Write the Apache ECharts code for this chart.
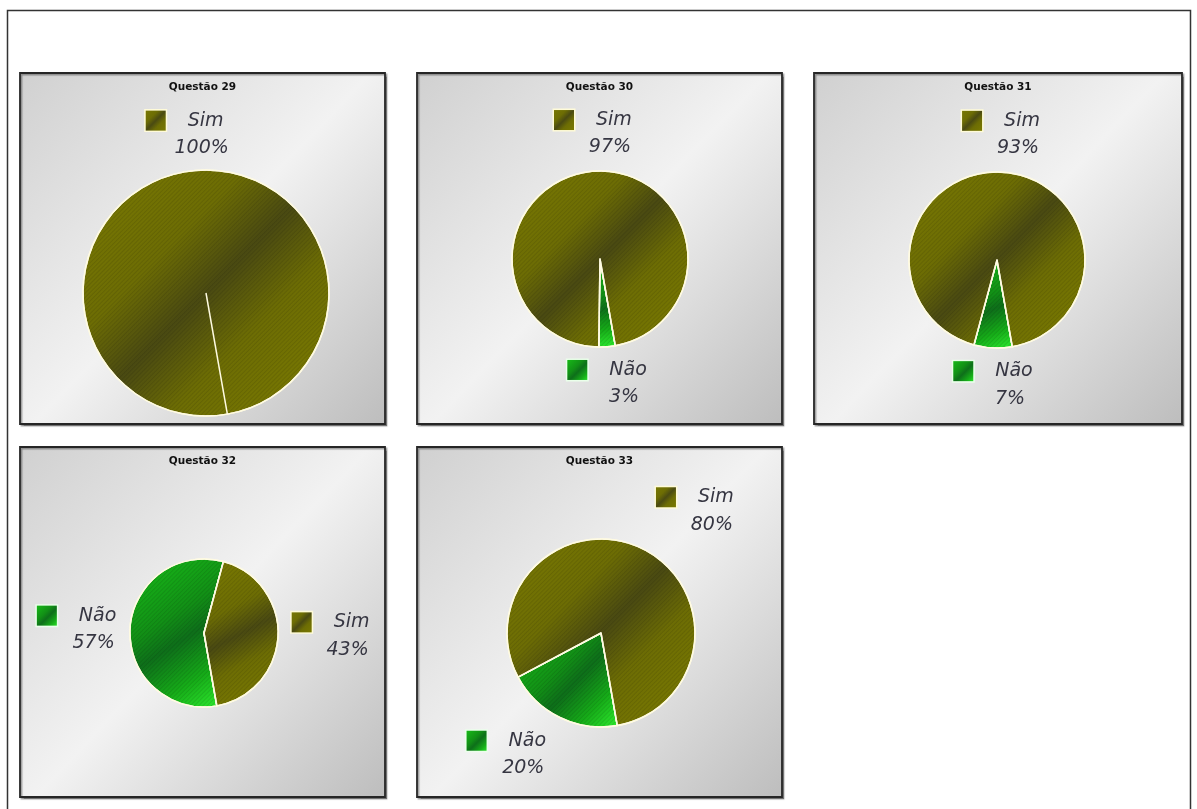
<!DOCTYPE html>
<html>
<head>
<meta charset="utf-8">
<script src="https://cdn.jsdelivr.net/npm/echarts@6/dist/echarts.min.js"></script>
<style>
html,body{margin:0;padding:0;background:#fff;}
#chart{width:1197px;height:809px;}
</style>
</head>
<body>
<div id="chart"></div>
<script>
// ---- data ----
const questions = ['Questão 29', 'Questão 30', 'Questão 31', 'Questão 32', 'Questão 33'];
const categories = ['Não', 'Sim'];
const naoValues = [0, 3, 7, 57, 20];
const simValues = [100, 97, 93, 43, 80];

// ---- layout (positions / sizes) ----
const panels = [[20,73,365,351],[417,73,365,351],[814,73,368,351],[20,447,365,350],[417,447,365,350]];
const pieCenters = [[206,293],[600,259],[997,260],[204,633],[601,633]];
const pieRadii = [123, 88, 88, 74, 94];
const START_ANGLE = -80;

const G = echarts.graphic;
function simGrad(){ return new G.LinearGradient(0,0,1,1,[
  {offset:0,color:'#7a7a02'},{offset:0.33,color:'#6d6d04'},{offset:0.5,color:'#4a4a12'},
  {offset:0.67,color:'#6d6d04'},{offset:1,color:'#7c7c00'}]); }
function naoGrad(){ return new G.LinearGradient(0,0,1,1,[
  {offset:0,color:'#18c018'},{offset:0.4,color:'#129016'},{offset:0.55,color:'#0e6f1a'},
  {offset:0.78,color:'#16ac18'},{offset:1,color:'#30f030'}]); }
function bgGrad(){ return new G.LinearGradient(0,0,1,1,[
  {offset:0,color:'#d0d0d0'},{offset:0.5,color:'#f2f2f2'},{offset:1,color:'#bdbdbd'}]); }
const stripes = {symbol:'rect', symbolSize:1, dashArrayX:[1,0], dashArrayY:[1,2],
  rotation:-Math.PI/4, color:'rgba(0,0,0,0.10)', backgroundColor:'rgba(0,0,0,0)'};

const txt = {fontFamily:'DejaVu Sans', fontStyle:'italic', fontSize:19, color:'#363642'};
const rich = {
  iconSim:{width:20,height:20,backgroundColor:simGrad(),borderColor:'#fffbd8',borderWidth:1.5,lineHeight:27},
  iconNao:{width:20,height:20,backgroundColor:naoGrad(),borderColor:'#eaffea',borderWidth:1.5,lineHeight:27},
  name:Object.assign({padding:[0,0,0,22],lineHeight:27},txt),
  sp:{width:34,lineHeight:28},
  pct:Object.assign({lineHeight:28},txt)
};

const GAP = 13;
function labelLayout(p){
  const pts = p.labelLinePoints;
  if(!pts || !p.labelRect) return {};
  const ux = pts[1][0]-pts[0][0], uy = pts[1][1]-pts[0][1];
  const ang = Math.atan2(-uy, ux);
  const snap = Math.round(ang/(Math.PI/4))*(Math.PI/4);
  const sx = Math.round(Math.cos(snap)), sy = -Math.round(Math.sin(snap));
  const w = p.labelRect.width, h = p.labelRect.height;
  return {x: pts[0][0] + sx*(w/2+GAP), y: pts[0][1] + sy*(h/2+GAP), align:'center', verticalAlign:'middle'};
}

const series = questions.map(function(q, i){
  return {
    type:'pie',
    name:q,
    center: pieCenters[i],
    radius: [0, pieRadii[i]],
    startAngle: START_ANGLE,
    clockwise: true,
    avoidLabelOverlap: false,
    animation: false,
    silent: true,
    data: [
      {name: categories[0], value: naoValues[i], itemStyle:{color: naoGrad()}},
      {name: categories[1], value: simValues[i], itemStyle:{color: simGrad()}}
    ],
    itemStyle:{borderColor:'#fffbe2', borderWidth:1.5, decal: stripes},
    label:{
      show:true, position:'outside',
      formatter: function(pp){
        if(!pp.value) return '';
        const ic = pp.name === 'Sim' ? 'iconSim' : 'iconNao';
        return '{'+ic+'|}{name|'+pp.name+'}\n{sp|}{pct|'+Math.round(pp.percent)+'%}';
      },
      rich: rich
    },
    labelLine:{show:true, length:10, length2:0, lineStyle:{opacity:0, width:0}},
    labelLayout: labelLayout
  };
});

const graphics = [];
// outer frame
graphics.push({type:'polyline', silent:true, z:-10,
  shape:{points:[[7.5,809],[7.5,10.5],[1190.5,10.5],[1190.5,809]]},
  style:{fill:null, stroke:'#333', lineWidth:1.5}});
panels.forEach(function(r, i){
  graphics.push({type:'rect', silent:true, z:-5,
    shape:{x:r[0], y:r[1], width:r[2], height:r[3]},
    style:{fill:bgGrad(), stroke:'#262626', lineWidth:1.8,
      shadowColor:'rgba(0,0,0,0.35)', shadowOffsetX:1.5, shadowOffsetY:1.5, shadowBlur:1}});
  graphics.push({type:'text', silent:true, z:5,
    x: r[0] + r[2]/2, y: r[1] + 14,
    style:{text: questions[i], align:'center', verticalAlign:'middle',
      font:'bold 10.5px "DejaVu Sans"', fill:'#111'}});
  // seam of a full-circle slice (zero-valued category) at the start angle
  if (naoValues[i] === 0 || simValues[i] === 0) {
    const a = START_ANGLE * Math.PI / 180, c = pieCenters[i], rr = pieRadii[i];
    graphics.push({type:'line', silent:true, z:100, zlevel:0,
      shape:{x1:c[0], y1:c[1], x2:c[0] + rr*Math.cos(a), y2:c[1] - rr*Math.sin(a)},
      style:{stroke:'#fffbe2', lineWidth:1.5}});
  }
});

const chart = echarts.init(document.getElementById('chart'), null, {renderer:'canvas'});
chart.setOption({
  backgroundColor:'#ffffff',
  animation:false,
  aria:{enabled:true, decal:{show:true}},
  graphic: graphics,
  series: series
});
</script>
</body>
</html>
